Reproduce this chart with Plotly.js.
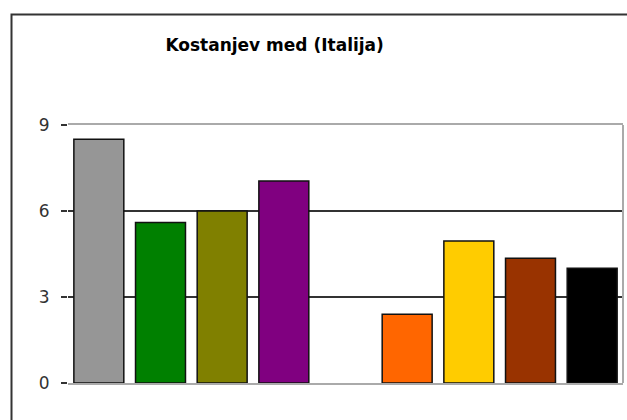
<!DOCTYPE html>
<html>
<head>
<meta charset="utf-8">
<script src="https://cdn.plot.ly/plotly-3.0.1.min.js"></script>
<style>
  html, body { margin: 0; padding: 0; background: #fff; }
  #chart { width: 627px; height: 420px; }
</style>
</head>
<body>
<div id="chart"></div>
<script>
// one bar per category, the fifth slot is left empty in the original
var categories = [0, 1, 2, 3, 4, 5, 6, 7, 8];
var values = [8.5, 5.6, 6.0, 7.05, null, 2.4, 4.95, 4.35, 4.0];
var colors = ['#969696', '#008000', '#808000', '#800080', '#ffffff', '#ff6600', '#ffcc00', '#993300', '#000000'];
var yTicks = [0, 3, 6, 9];

var data = [{
	x: categories,
	y: values,
	type: 'bar',
	marker: {color: colors, line: {color: '#111', width: 1.5}},
	hoverinfo: 'y'
}];

var layout = {
	width: 627,
	height: 420,
	margin: {l: 68, r: 4, t: 125, b: 37},
	paper_bgcolor: '#fff',
	plot_bgcolor: '#fff',
	showlegend: false,
	bargap: 0.19,
	font: {family: 'DejaVu Sans, Verdana, sans-serif', color: '#222'},
	title: {
		text: 'Kostanjev med (Italija)',
		font: {size: 17, color: '#000', weight: 'bold'},
		xref: 'container', x: 0.438, xanchor: 'center',
		yref: 'container', y: 0.893, yanchor: 'middle'
	},
	xaxis: {
		range: [-0.5, 8.5],
		showticklabels: false,
		ticks: '',
		showgrid: false,
		zeroline: false,
		showline: true,
		mirror: true,
		linecolor: '#aaa',
		linewidth: 2
	},
	yaxis: {
		range: [0, 9],
		tickvals: yTicks,
		ticks: 'outside',
		ticklen: 6,
		tickwidth: 1.5,
		tickcolor: '#333',
		ticklabelstandoff: 8,
		tickfont: {size: 17, color: '#333'},
		showgrid: true,
		gridcolor: '#333',
		gridwidth: 1.5,
		zeroline: false,
		showline: false
	},
	shapes: [
		{type: 'line', xref: 'paper', yref: 'paper', x0: 1, x1: 1, y0: 0, y1: 1,
			line: {color: '#aaa', width: 2}},
		{type: 'rect', xref: 'paper', yref: 'paper', x0: -0.1018, x1: 1.2, y0: -0.4, y1: 1.428,
			line: {color: '#333', width: 2}}
	]
};

Plotly.newPlot('chart', data, layout, {displayModeBar: false, staticPlot: true});
</script>
</body>
</html>
